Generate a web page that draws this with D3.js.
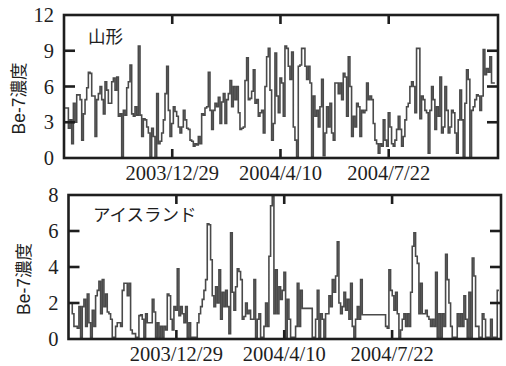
<!DOCTYPE html>
<html><head><meta charset="utf-8">
<script src="https://cdn.jsdelivr.net/npm/d3@7"></script>
<style>body{margin:0;background:#fff}</style>
</head><body>
<svg id="c" width="506" height="366"></svg>
<script>
// ---- data ----
const xTickLabels = ["2003/12/29", "2004/4/10", "2004/7/22"];
const xDomain = ["2003-09-17", "2004-11-03"];
const yamagataTicks = [0, 3, 6, 9, 12];
const icelandTicks = [0, 2, 4, 6, 8];
const yamagataSpan = ["2003-09-18", "2004-10-31"];
const icelandSpan = ["2003-09-19", "2004-11-01"];
const yamagata = [
4.2,4.2,2.5,3.2,1.2,4.6,3.0,5.3,5.3,4.9,
1.5,3.7,4.9,5.9,7.2,7.1,5.2,5.2,1.8,4.9,
5.4,6.0,4.9,3.7,6.4,5.7,4.6,4.6,6.4,6.7,
5.7,6.8,3.5,3.7,0.1,4.0,3.6,5.9,6.4,7.8,
3.7,3.5,4.3,3.6,9.4,3.6,1.8,3.3,3.2,2.6,
2.1,0.1,2.5,1.8,0.0,5.4,1.2,1.4,2.1,3.2,
5.4,7.7,4.0,1.8,2.9,4.3,3.9,3.5,2.6,2.1,
2.6,4.0,3.2,2.5,2.4,1.5,1.4,1.0,1.2,1.1,
1.8,1.2,3.7,3.6,4.2,4.3,7.2,4.0,2.4,4.0,
4.6,4.3,5.1,2.9,4.7,5.4,2.9,4.9,5.4,6.5,
4.3,6.0,4.9,6.0,3.8,2.4,2.5,2.6,6.5,8.4,
4.9,
5.0,5.6,7.4,4.6,4.9,3.5,3.8,4.0,2.1,6.0,
8.5,9.2,5.7,1.5,2.9,8.8,5.2,3.8,6.7,6.3,
3.5,9.4,9.2,7.7,6.6,8.9,2.6,1.5,0.1,7.7,
7.8,9.2,9.2,7.7,6.6,7.7,6.3,0.1,5.2,3.5,
4.0,2.6,4.3,6.6,0.2,2.1,4.3,2.6,4.6,2.1,
1.5,6.3,6.3,5.4,6.3,4.9,7.1,6.8,3.5,8.5,
6.0,1.8,3.5,2.6,4.6,4.3,1.8,4.0,3.8,4.0,
6.3,4.9,5.2,4.9,2.9,1.5,1.2,0.4,1.2,1.0,
3.2,1.5,1.0,3.8,2.6,1.2,1.0,1.5,2.4,3.5,
2.4,1.0,1.8,3.2,4.3,4.6,6.0,6.4,6.0,3.8,
9.2,9.2,3.3,5.2,4.9,4.0,3.8,0.4,4.0,6.0,
4.9,2.4,4.3,3.5,6.8,2.1,2.6,6.0,4.0,2.1,
2.6,4.0,3.8,2.1,0.4,3.2,5.7,3.2,0.1,4.6,
7.4,6.6,0.0,4.0,4.3,4.9,5.3,5.2,4.0,5.2,
9.1,7.0,7.5,7.2,8.5,6.3,6.3,6.3
];
const iceland = [
2.0,1.4,0.7,0.7,0.6,1.8,0.1,1.8,2.2,0.7,
2.5,0.9,0.1,1.6,0.7,2.4,2.7,3.2,1.4,3.3,
1.8,2.5,1.5,1.4,1.1,0.1,0.1,0.7,0.9,0.9,
0.7,2.7,3.1,3.1,2.4,3.1,0.5,0.3,0.3,0.1,
0.1,1.3,1.35,1.1,0.1,1.4,0.9,0.9,0.9,2.2,
1.5,0.1,0.9,0.1,0.7,0.1,0.7,0.5,2.5,2.4,
1.1,0.5,1.8,1.6,3.9,1.3,1.8,1.4,0.9,1.8,
0.1,0.9,0.1,0.1,0.1,0.1,0.9,1.4,1.8,2.2,
2.7,3.3,6.4,6.35,4.4,2.4,1.8,2.9,2.0,3.85,
1.1,2.6,1.8,2.7,1.8,0.3,5.9,2.6,1.6,2.9,
3.9,3.75,3.3,1.1,1.25,2.0,1.4,1.6,1.1,1.1,
3.3,0.1,1.1,1.4,
0.1,0.1,0.7,2.0,0.7,4.6,7.4,7.9,1.4,3.85,
1.4,2.9,2.2,2.7,3.7,0.1,2.2,1.1,0.1,0.1,
0.1,0.7,3.1,0.7,2.7,1.7,1.7,1.7,1.7,1.7,
1.7,0.1,0.1,1.1,2.7,0.1,1.4,1.1,0.1,1.4,
1.4,2.4,1.8,3.3,2.6,3.5,5.4,2.0,1.4,1.8,
2.6,1.6,2.2,1.1,3.1,0.7,0.1,1.1,1.8,1.1,
3.3,1.35,1.35,1.35,1.35,1.35,1.35,1.35,1.35,1.35,
1.35,1.35,1.35,1.35,1.35,0.7,0.6,3.85,2.7,2.4,
1.6,2.6,1.4,0.1,0.5,1.1,1.4,0.7,1.4,0.7,
2.6,5.15,5.9,4.6,4.2,1.4,3.1,1.4,1.4,1.6,
1.25,1.1,0.7,1.1,0.7,3.7,0.1,1.4,0.1,1.4,
0.7,4.7,3.3,2.0,0.7,0.1,0.1,0.1,1.4,0.7,
1.4,0.7,2.4,1.1,0.1,2.6,0.1,4.5,3.5,0.7,
0.7,0.1,0.1,1.4,1.1,0.1,0.1,0.1,1.1,0.1,
0.1,0.1,2.7,2.7
];

// ---- drawing ----
const svg = d3.select("#c");
const parseISO = d3.utcParse("%Y-%m-%d");
const parseLbl = d3.utcParse("%Y/%m/%d");
const serif = "Liberation Serif";
const sans = "Liberation Sans, Noto Sans CJK JP, sans-serif";
const cjk = "Noto Sans CJK JP, sans-serif";
const ink = "#1e1e1e";

const panels = [
  {name: "山形", values: yamagata, span: yamagataSpan, ticks: yamagataTicks,
   box: {x0: 64, x1: 498, y0: 15, y1: 158}, titleX: 19, nameX: 88, nameY: 43},
  {name: "アイスランド", values: iceland, span: icelandSpan, ticks: icelandTicks,
   box: {x0: 68.5, x1: 501, y0: 195, y1: 339}, titleX: 24, nameX: 93, nameY: 221}
];

panels.forEach((p, pi) => {
  const b = p.box;
  const x = d3.scaleUtc().domain(xDomain.map(parseISO)).range([b.x0, b.x1]);
  const y = d3.scaleLinear().domain([p.ticks[0], p.ticks[p.ticks.length - 1]]).range([b.y1, b.y0]);
  const t0 = parseISO(p.span[0]).getTime(), t1 = parseISO(p.span[1]).getTime();
  const n = p.values.length;
  const data = p.values.map((v, i) => ({date: new Date(t0 + (t1 - t0) * i / (n - 1)), v}));

  const clipId = "clip" + pi;
  svg.append("clipPath").attr("id", clipId).append("rect")
    .attr("x", b.x0).attr("y", b.y0).attr("width", b.x1 - b.x0).attr("height", b.y1 - b.y0);

  svg.append("path").datum(data)
    .attr("clip-path", `url(#${clipId})`)
    .attr("fill", "none").attr("stroke", "#4a4a4a").attr("stroke-width", 1.6)
    .attr("d", d3.line().x(d => x(d.date)).y(d => y(d.v)).curve(d3.curveStepAfter));

  svg.append("rect").attr("x", b.x0).attr("y", b.y0)
    .attr("width", b.x1 - b.x0).attr("height", b.y1 - b.y0)
    .attr("fill", "none").attr("stroke", ink).attr("stroke-width", 2.6);

  const g = svg.append("g");
  p.ticks.forEach((t, i) => {
    const yy = y(t);
    if (i > 0 && i < p.ticks.length - 1) {
      g.append("line").attr("x1", b.x0).attr("x2", b.x0 + 11).attr("y1", yy).attr("y2", yy)
        .attr("stroke", ink).attr("stroke-width", 2.6);
      g.append("line").attr("x1", b.x1).attr("x2", b.x1 - 11).attr("y1", yy).attr("y2", yy)
        .attr("stroke", ink).attr("stroke-width", 2.6);
    }
    g.append("text").attr("x", b.x0 - 10).attr("y", yy).attr("dy", "0.35em")
      .attr("text-anchor", "end").attr("font-family", serif).attr("font-size", 20.5)
      .attr("fill", ink).text(t);
  });

  xTickLabels.forEach(lbl => {
    const xx = x(parseLbl(lbl));
    g.append("line").attr("x1", xx).attr("x2", xx).attr("y1", b.y0).attr("y2", b.y0 + 9)
      .attr("stroke", ink).attr("stroke-width", 2.6);
    g.append("line").attr("x1", xx).attr("x2", xx).attr("y1", b.y1).attr("y2", b.y1 - 9)
      .attr("stroke", ink).attr("stroke-width", 2.6);
    g.append("text").attr("x", xx).attr("y", b.y1 + 22).attr("text-anchor", "middle")
      .attr("font-family", serif).attr("font-size", 20.5).attr("fill", ink).text(lbl);
  });

  const cy = (b.y0 + b.y1) / 2 + 12;
  svg.append("text").attr("transform", `translate(${p.titleX},${cy}) rotate(-90)`)
    .attr("text-anchor", "middle").attr("dy", "0.35em")
    .attr("font-family", sans).attr("font-size", 17.5).attr("fill", ink).text("Be-7濃度");

  svg.append("text").attr("x", p.nameX).attr("y", p.nameY)
    .attr("font-family", cjk).attr("font-size", 17.5).attr("fill", ink).text(p.name);
});
</script>
</body></html>
